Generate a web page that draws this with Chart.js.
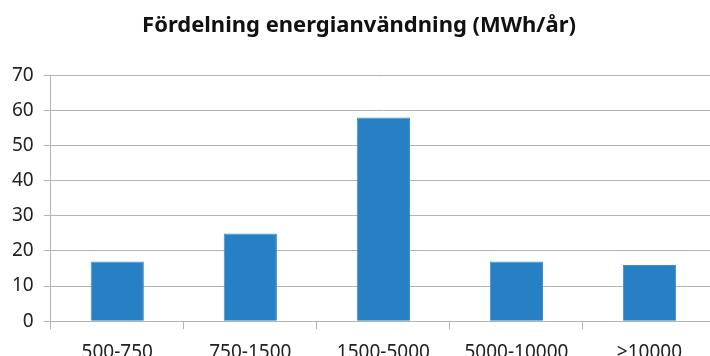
<!DOCTYPE html>
<html>
<head>
<meta charset="utf-8">
<script src="https://cdn.jsdelivr.net/npm/chart.js@4"></script>
<style>
  html, body { margin: 0; padding: 0; background: #fff; overflow: hidden; }
  #wrap { width: 716px; height: 376px; }
</style>
</head>
<body>
<div id="wrap"><canvas id="c" width="716" height="376"></canvas></div>
<script>
// Antal per intervall av årlig energianvändning
const categories = ['500-750', '750-1500', '1500-5000', '5000-10000', '>10000'];
const counts = [17, 25, 58, 17, 16];
const yTicks = [0, 10, 20, 30, 40, 50, 60, 70];

const font = "'Noto Sans', 'DejaVu Sans', sans-serif";
const gridColor = '#b4b4b4';

new Chart(document.getElementById('c'), {
  type: 'bar',
  data: {
    labels: categories,
    datasets: [{
      data: counts,
      backgroundColor: '#2680c3',
      borderColor: '#3b8fd0',
      borderWidth: 1,
      categoryPercentage: 1,
      barPercentage: 0.4
    }]
  },
  options: {
    responsive: false,
    animation: false,
    layout: { padding: { left: 2, right: 0, top: 0, bottom: 0 } },
    plugins: {
      legend: { display: false },
      tooltip: { enabled: false },
      title: {
        display: true,
        text: 'Fördelning energianvändning (MWh/år)',
        color: '#111',
        font: { family: font, size: 22, weight: 'bold' },
        padding: { top: 13, bottom: 36 }
      }
    },
    scales: {
      x: {
        offset: true,
        grid: {
          offset: true,
          drawOnChartArea: false,
          drawTicks: true,
          tickLength: 8,
          color: gridColor
        },
        border: { display: true, color: gridColor, width: 1 },
        ticks: {
          color: '#222',
          font: { family: font, size: 19 },
          padding: 12,
          maxRotation: 0,
          autoSkip: false
        }
      },
      y: {
        min: 0,
        max: 70,
        afterBuildTicks: (axis) => { axis.ticks = yTicks.map(v => ({ value: v })); },
        grid: {
          color: gridColor,
          drawTicks: true,
          tickLength: 7
        },
        border: { display: true, color: gridColor, width: 1 },
        ticks: {
          color: '#222',
          font: { family: font, size: 19 },
          padding: 10
        }
      }
    }
  }
});
</script>
</body>
</html>
